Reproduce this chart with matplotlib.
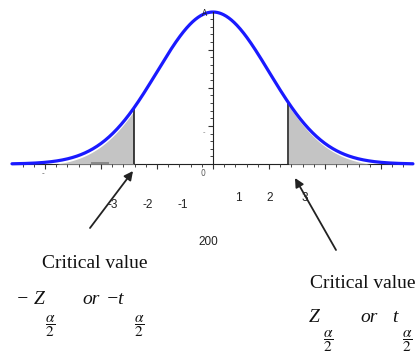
import numpy as np
import matplotlib.pyplot as plt

# normal curve (x in sd units)
mu = 0.0
sd = 1.0
x_lo, x_hi = -3.59, 3.57
crit_left = -1.41
crit_right = 1.34

neg_labels = ["-3", "-2", "-1"]
pos_labels = ["1", "2", "3"]
mid_label = "200"

W, H = 418, 353
fig = plt.figure(figsize=(W / 100, H / 100), dpi=100)
ax = fig.add_axes([0, 0, 1, 1])
ax.set_xlim(-3.804, 3.661)
ax.set_ylim(-0.496, 0.4305)


def P(xp, yp):
    # pixel position in the picture -> data coords
    x0, x1 = ax.get_xlim()
    y0, y1 = ax.get_ylim()
    return x0 + xp / W * (x1 - x0), y1 - yp / H * (y1 - y0)


def pdf(x):
    return np.exp(-0.5 * ((x - mu) / sd) ** 2) / (sd * np.sqrt(2 * np.pi))


xs = np.linspace(x_lo, x_hi, 600)
ys = pdf(xs)

# shaded tails, a bit below the curve
gap = 0.008
left = xs <= crit_left
right = xs >= crit_right
ax.fill_between(xs[left], 0, np.clip(ys[left] - gap, 0, None), color="#c4c4c4", lw=0)
ax.fill_between(xs[right], 0, np.clip(ys[right] - gap, 0, None), color="#c4c4c4", lw=0)
ax.fill_between([-2.18, -1.85], 0, 0.006, color="#8a8a8a", lw=0)

ax.vlines([crit_left, crit_right], 0, pdf(np.array([crit_left, crit_right])), color="#111111", lw=1.1)
ax.plot(xs, ys, color="#1a1aff", lw=2.3, solid_capstyle="round")

# axes through the origin
for s in ["top", "right"]:
    ax.spines[s].set_visible(False)
ax.spines["bottom"].set_position(("data", 0))
ax.spines["left"].set_position(("data", 0))
ax.spines["bottom"].set_bounds(x_lo, x_hi)
ax.spines["left"].set_bounds(0, pdf(0.0))
ax.spines["bottom"].set_color("#222222")
ax.spines["left"].set_color("#222222")
ax.spines["bottom"].set_zorder(0.5)
ax.set_xticks(np.arange(-3, 4, 1))
ax.set_xticks(np.arange(-3.4, 3.5, 0.2), minor=True)
ax.set_yticks([0.1, 0.2, 0.3])
ax.set_yticks(np.arange(0.02, 0.4, 0.02), minor=True)
ax.set_xticklabels([])
ax.set_yticklabels([])
ax.tick_params(axis="both", which="major", direction="out", length=3.5, width=0.8, color="#333333")
ax.tick_params(axis="both", which="minor", direction="out", length=2.2, width=0.7, color="#444444")

# tiny axis marks
ax.text(*P(203, 173), "0", fontsize=5.5, color="#555555", ha="center", va="center")
ax.text(*P(43, 174), "-", fontsize=5.5, color="#777777", ha="center", va="center")
ax.text(*P(204, 132), "-", fontsize=5, color="#777777", ha="center", va="center")
ax.text(*P(205, 14), "A", fontsize=5.5, color="#222222", ha="center", va="center")

num_font = dict(family="Liberation Sans", fontsize=8.5, color="#222222", ha="center", va="center")
for xp, lab in zip([113, 148, 183], neg_labels):
    ax.text(*P(xp, 205), lab, **num_font)
for xp, lab in zip([238, 270, 305], pos_labels):
    ax.text(*P(xp, 198), lab, **num_font)
ax.text(*P(208, 242), mid_label, **num_font)

# arrows to the critical values
arrow = dict(arrowstyle="-|>", color="#222222", lw=1.3, mutation_scale=13, shrinkA=0, shrinkB=0)
ax.annotate("", xy=P(133, 171), xytext=P(90, 228), arrowprops=arrow)
ax.annotate("", xy=P(295, 178), xytext=P(336, 250), arrowprops=arrow)

plt.rcParams["mathtext.fontset"] = "stix"
serif = dict(family="Liberation Serif", color="#111111", va="center")
ax.text(*P(95, 263), "Critical value", fontsize=14, ha="center", **serif)
ax.text(*P(363, 284), "Critical value", fontsize=14, ha="center", **serif)

ital = dict(family="Liberation Serif", style="italic", fontsize=14, color="#111111", va="center", ha="left")
frac = r"$\dfrac{\alpha}{2}$"
fr = dict(fontsize=11, ha="center", va="center", color="#111111")
# left: -Z  or  -t
ax.text(*P(16, 300), "\u2212 Z", **ital)
ax.text(*P(50, 326), frac, **fr)
ax.text(*P(82, 300), "or", **ital)
ax.text(*P(106, 300), "\u2212t", **ital)
ax.text(*P(139, 326), frac, **fr)
# right: Z  or  t
ax.text(*P(309, 318), "Z", **ital)
ax.text(*P(328, 341), frac, **fr)
ax.text(*P(360, 318), "or", **ital)
ax.text(*P(392, 318), "t", **ital)
ax.text(*P(407, 341), frac, **fr)

fig.savefig("out.png", dpi=100)
